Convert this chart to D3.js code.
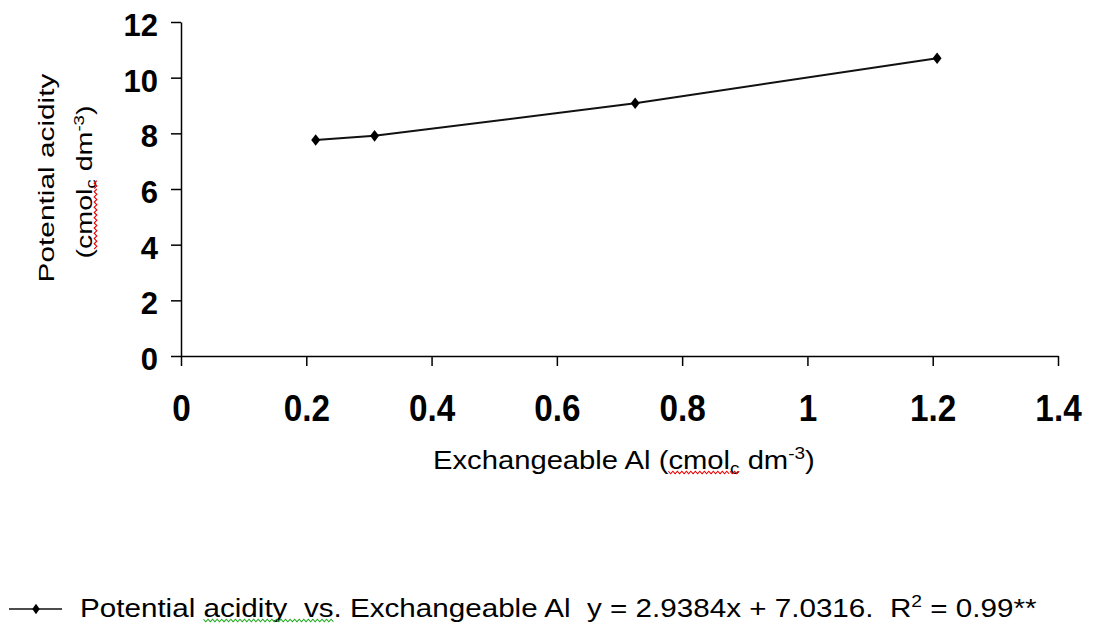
<!DOCTYPE html>
<html>
<head>
<meta charset="utf-8">
<script src="https://cdn.jsdelivr.net/npm/d3@7"></script>
<style>
  body { margin: 0; background: #fff; }
  svg { display: block; font-family: "Liberation Sans", Arial, sans-serif; }
  text { white-space: pre; }
</style>
</head>
<body>
<svg id="chart" width="1095" height="625"></svg>
<script>
// data
const alValues = [0.215, 0.309, 0.725, 1.207];
const acidityValues = [7.76, 7.91, 9.08, 10.70];
const xTicks = [0, 0.2, 0.4, 0.6, 0.8, 1, 1.2, 1.4];
const yTicks = [0, 2, 4, 6, 8, 10, 12];
const equationText = "y = 2.9384x + 7.0316.";
const r2Text = "0.99**";

const points = alValues.map((a, i) => [a, acidityValues[i]]);

const svg = d3.select('#chart');

const x = d3.scaleLinear().domain([0, 1.4]).range([181, 1058]);
const y = d3.scaleLinear().domain([0, 12]).range([356, 22]);

// axes
const xAxis = svg.append('g')
  .attr('transform', `translate(0,${y(0)})`)
  .call(d3.axisBottom(x).tickValues(xTicks).tickFormat(d => String(d))
    .tickSize(10).tickSizeOuter(0).tickPadding(29));

const yAxis = svg.append('g')
  .attr('transform', `translate(${x(0)},0)`)
  .call(d3.axisLeft(y).tickValues(yTicks).tickFormat(d => String(d))
    .tickSize(10).tickSizeOuter(0).tickPadding(13));

[xAxis, yAxis].forEach(ax => {
  ax.attr('font-family', null).attr('font-size', null);
  ax.selectAll('path, line').attr('stroke', '#000').attr('stroke-width', 1.5);
  ax.selectAll('text').attr('fill', '#000').attr('font-weight', 'bold');
});
// x labels are a bit taller and narrower in the original
xAxis.selectAll('text').attr('font-size', 37).attr('transform', 'scale(0.9,1)');
yAxis.selectAll('text').attr('font-size', 31).attr('dy', '0.43em');

// series
svg.append('path')
  .datum(points)
  .attr('fill', 'none')
  .attr('stroke', '#111')
  .attr('stroke-width', 2)
  .attr('d', d3.line().x(d => x(d[0])).y(d => y(d[1])));

const diamond = d3.symbol(d3.symbolDiamond, 48);
svg.selectAll('.pt')
  .data(points)
  .enter()
  .append('path')
  .attr('class', 'pt')
  .attr('transform', d => `translate(${x(d[0])},${y(d[1])}) scale(1.2,0.9)`)
  .attr('d', diamond)
  .attr('fill', '#000');

// wavy spell-check underline under a tspan
function squiggle(parent, bb, yLine, color) {
  const pts = [];
  for (let i = 0, xx = bb.x; xx <= bb.x + bb.width; i++, xx += 2) {
    pts.push([xx, yLine + (i % 2 ? 1.3 : -1.3)]);
  }
  parent.append('path').attr('d', d3.line()(pts))
    .attr('fill', 'none').attr('stroke', color).attr('stroke-width', 1);
}

// write a text made of parts into g, stretch it to a given length
function label(g, parts, size, anchor, target) {
  const inner = g.append('g');
  const t = inner.append('text').attr('font-size', size).attr('text-anchor', anchor).attr('fill', '#000');
  const spans = parts.map(p => {
    const s = t.append('tspan').text(p.text);
    if (p.sub) s.attr('font-size', size * 0.65).attr('dy', size * 0.2);
    if (p.sup) s.attr('font-size', size * 0.65).attr('dy', -size * 0.38);
    if (p.dy) s.attr('dy', p.dy);
    return s;
  });
  const w = t.node().getBBox().width;
  inner.attr('transform', `scale(${target / w},1)`);
  parts.forEach((p, i) => {
    if (p.wave) squiggle(inner, spans[i].node().getBBox(), 3.5, p.wave);
  });
  return inner;
}

// x axis title
label(svg.append('g').attr('transform', 'translate(433,469)'), [
  { text: 'Exchangeable Al (' },
  { text: 'cmol', wave: '#e00' },
  { text: 'c', sub: true, wave: '#e00' },
  { text: ' dm', dy: -26 * 0.2 },
  { text: '-3', sup: true },
  { text: ')', dy: 26 * 0.38 }
], 26, 'start', 382);

// y axis title, two lines
label(svg.append('g').attr('transform', 'translate(54,178) rotate(-90)'), [
  { text: 'Potential acidity' }
], 22, 'middle', 209);

label(svg.append('g').attr('transform', 'translate(92,182) rotate(-90)'), [
  { text: '(' },
  { text: 'cmol', wave: '#e00' },
  { text: 'c', sub: true, wave: '#e00' },
  { text: ' dm', dy: -22 * 0.2 },
  { text: '-3', sup: true },
  { text: ')', dy: 22 * 0.38 }
], 22, 'middle', 153);

// legend
const legend = svg.append('g');
legend.append('line')
  .attr('x1', 9).attr('x2', 62).attr('y1', 609).attr('y2', 609)
  .attr('stroke', '#111').attr('stroke-width', 1.5);
legend.append('path')
  .attr('transform', 'translate(36,609) scale(1.0,0.8)')
  .attr('d', diamond).attr('fill', '#000');

label(legend.append('g').attr('transform', 'translate(80,617)'), [
  { text: 'Potential ' },
  { text: 'acidity  vs', wave: '#2a2' },
  { text: '. Exchangeable Al  ' + equationText + '  R' },
  { text: '2', sup: true },
  { text: ' = ' + r2Text, dy: 26 * 0.38 }
], 26, 'start', 957);
</script>
</body>
</html>
